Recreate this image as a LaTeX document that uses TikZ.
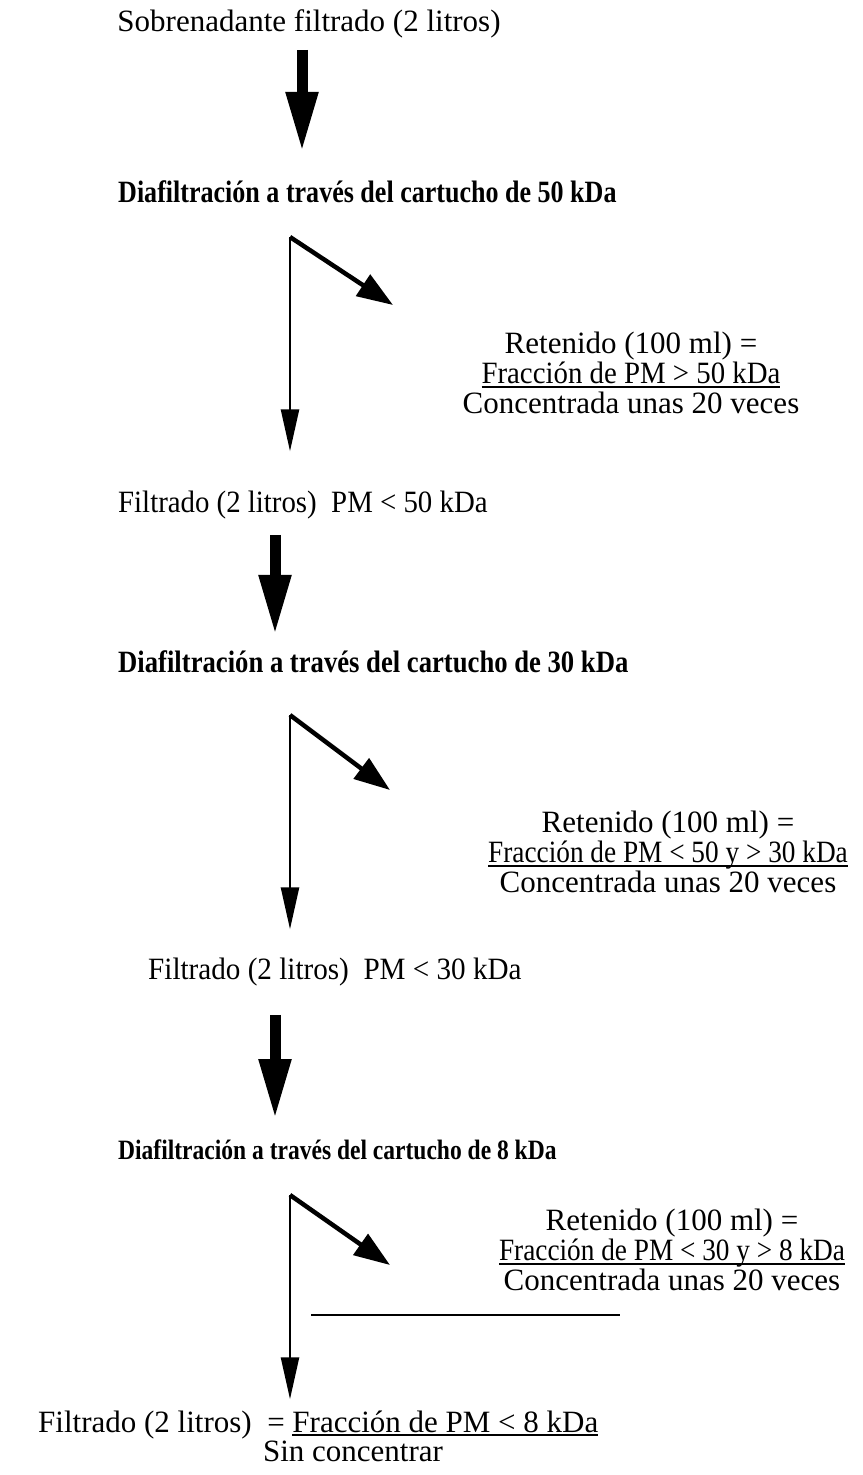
\documentclass[tikz,border=0pt]{standalone}
\usepackage{fontspec}
\usepackage{graphicx}
\setmainfont{Liberation Serif}
\usetikzlibrary{arrows.meta}

% underline sitting close under the baseline
\newcommand{\ulin}[1]{\leavevmode\setbox0\hbox{#1}\rlap{\rule[-4pt]{\wd0}{1.6pt}}\box0}
% narrow type as in the scan
\newcommand{\narrow}[2]{\scalebox{#1}[1]{#2}}

\tikzset{
  txt/.style={inner sep=0pt, font=\fontsize{31}{30}\selectfont},
  hdr/.style={inner sep=0pt, font=\fontsize{31}{31}\selectfont\bfseries},
  fatarrow/.style={line width=11pt, -{Triangle[width=30pt,length=60pt]}},
  thinarrow/.style={line width=2.5pt, -{Triangle[width=18pt,length=42pt]}},
  sidearrow/.style={line width=4.5pt, -{Triangle[width=25pt,length=36pt]}}
}

\begin{document}
\begin{tikzpicture}[x=1pt,y=-1pt]
	\useasboundingbox (0,0) rectangle (862,1475);
	
	% texts
	\node[txt, anchor=base] (feed) at (309,31) {Sobrenadante filtrado (2 litros)};
	\node[hdr, anchor=base west] (cut50) at (118,202) {\narrow{0.84}{Diafiltración a través del cartucho de 50 kDa}};
	\node[txt, align=center] (ret50) at (631,373) {Retenido (100 ml) =\\ \ulin{\narrow{0.93}{Fracción de PM > 50 kDa}}\\ Concentrada unas 20 veces};
	\node[txt, anchor=base west] (filt50) at (118,512) {\narrow{0.93}{Filtrado (2 litros)\ \ PM < 50 kDa}};
	\node[hdr, anchor=base west] (cut30) at (118,672) {\narrow{0.86}{Diafiltración a través del cartucho de 30 kDa}};
	\node[txt, align=center] (ret30) at (668,852) {Retenido (100 ml) =\\ \ulin{\narrow{0.88}{Fracción de PM < 50 y > 30 kDa}}\\ Concentrada unas 20 veces};
	\node[txt, anchor=base west] (filt30) at (148,979) {\narrow{0.94}{Filtrado (2 litros)\ \ PM < 30 kDa}};
	\node[hdr, anchor=base west, font=\fontsize{28}{28}\selectfont\bfseries] (cut8) at (118,1159) {\narrow{0.84}{Diafiltración a través del cartucho de 8 kDa}};
	\node[txt, align=center] (ret8) at (672,1250) {Retenido (100 ml) =\\ \ulin{\narrow{0.88}{Fracción de PM < 30 y > 8 kDa}}\\ Concentrada unas 20 veces};
	\node[txt, anchor=base west] (filt8) at (38,1432) {Filtrado (2 litros)\ \ = \ulin{Fracción de PM < 8 kDa}};
	\node[txt, anchor=base] (nocon) at (353,1461) {Sin concentrar};
	
	% main flow
	\coordinate (c1) at (302,0);
	\coordinate (c2) at (275,0);
	\draw[fatarrow, shorten <=12pt, shorten >=28pt] (feed.south -| c1) -- (cut50.north -| c1);
	\draw[fatarrow, shorten <=16pt, shorten >=15pt] (filt50.south -| c2) -- (cut30.north -| c2);
	\draw[fatarrow, shorten <=29pt, shorten >=20pt] (filt30.south -| c2) -- (cut8.north -| c2);
	
	% splits
	\coordinate (s1) at (290,237);
	\coordinate (r1) at (393,305);
	\draw[sidearrow] (s1) -- (r1);
	\draw[thinarrow, shorten >=39pt] (s1) -- (s1 |- filt50.north);
	
	\coordinate (s2) at (290,715);
	\coordinate (r2) at (390,790);
	\draw[sidearrow] (s2) -- (r2);
	\draw[thinarrow, shorten >=28pt] (s2) -- (s2 |- filt30.north);
	
	\coordinate (s3) at (290,1195);
	\coordinate (r3) at (390,1265);
	\draw[sidearrow] (s3) -- (r3);
	\draw[thinarrow, shorten >=11pt] (s3) -- (s3 |- filt8.north);
	
	\draw[line width=1.5pt] (311,1315) -- (620,1315);
\end{tikzpicture}
\end{document}
